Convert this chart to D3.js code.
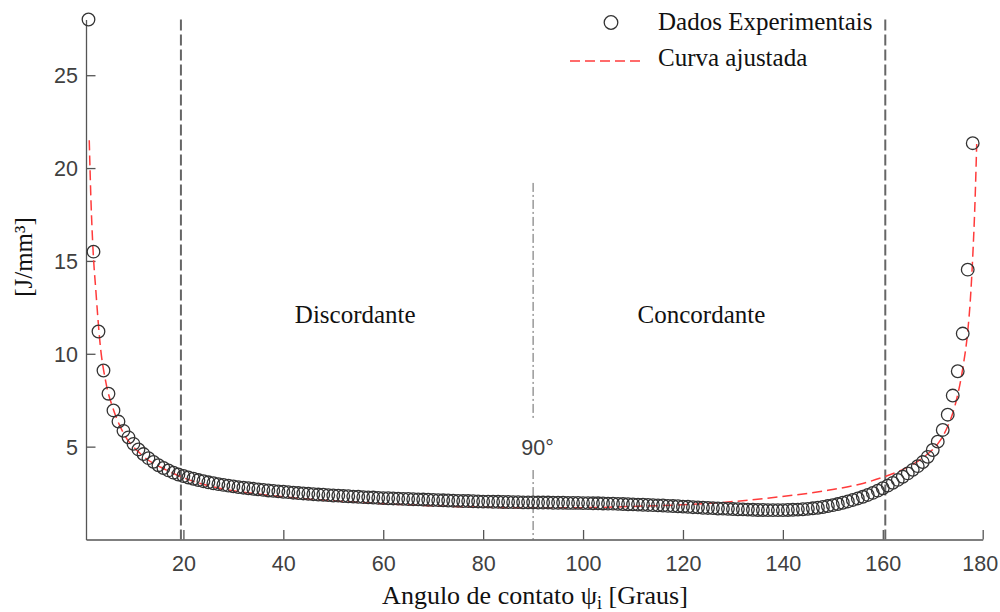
<!DOCTYPE html>
<html lang="pt">
<head>
<meta charset="UTF-8">
<title>Energia específica x ângulo de contato</title>
<script src="https://cdn.jsdelivr.net/npm/d3@7/dist/d3.min.js"></script>
<style>
    html, body { margin: 0; padding: 0; background: #fff; }
    svg { display: block; }
    .tick-label { font-family: "Liberation Sans", Arial, sans-serif; font-size: 21.5px; fill: #404040; }
    .serif { font-family: "Liberation Serif", "Times New Roman", serif; fill: #111; }
</style>
</head>
<body>
<svg id="chart" width="1000" height="612"></svg>
<script>
// pontos experimentais: angulo 1..178 graus
const angulos = d3.range(1, 179);
const energia = [
    28.0, 15.5, 11.2, 9.1, 7.85, 6.95, 6.35, 5.85, 5.5, 5.15,
    4.85, 4.6, 4.38, 4.18, 4.0, 3.85, 3.72, 3.6, 3.5, 3.42,
    3.34, 3.27, 3.2, 3.14, 3.08, 3.03, 2.98, 2.94, 2.9, 2.86,
    2.82, 2.79, 2.76, 2.73, 2.70, 2.67, 2.64, 2.62, 2.59, 2.57,
    2.55, 2.52, 2.50, 2.48, 2.46, 2.44, 2.42, 2.41, 2.39, 2.37,
    2.36, 2.34, 2.33, 2.31, 2.30, 2.28, 2.27, 2.26, 2.24, 2.23,
    2.22, 2.21, 2.20, 2.19, 2.18, 2.17, 2.16, 2.15, 2.14, 2.13,
    2.12, 2.11, 2.10, 2.09, 2.08, 2.07, 2.07, 2.06, 2.05, 2.04,
    2.04, 2.03, 2.03, 2.02, 2.02, 2.01, 2.01, 2.00, 2.00, 2.00,
    1.99, 1.99, 1.99, 1.98, 1.98, 1.98, 1.97, 1.97, 1.97, 1.96,
    1.96, 1.95, 1.95, 1.94, 1.93, 1.93, 1.92, 1.91, 1.90, 1.89,
    1.88, 1.87, 1.86, 1.85, 1.84, 1.83, 1.81, 1.80, 1.79, 1.77,
    1.76, 1.74, 1.73, 1.71, 1.70, 1.69, 1.67, 1.66, 1.65, 1.64,
    1.63, 1.62, 1.61, 1.60, 1.59, 1.59, 1.58, 1.58, 1.58, 1.58,
    1.59, 1.60, 1.61, 1.63, 1.65, 1.68, 1.71, 1.75, 1.80, 1.85,
    1.91, 1.98, 2.05, 2.13, 2.21, 2.30, 2.40, 2.51, 2.63, 2.76,
    2.90, 3.05, 3.21, 3.38, 3.56, 3.75, 3.95, 4.17, 4.45, 4.82,
    5.27, 5.9, 6.72, 7.75, 9.06, 11.09, 14.53, 21.34
];

// curva ajustada
const curvaX = [1.15, 1.5, 1.9, 2.5, 3.3, 4.5, 6, 8, 11.3, 16.6, 19.6, 26, 35, 45, 60, 80, 90, 102, 111, 119,
    129, 139, 149, 156, 160, 163, 166, 168, 170, 171, 172, 173, 174, 175, 176, 177, 177.5, 178, 178.5, 178.8];
const curvaY = [21.5, 18.2, 15.65, 13.3, 10.6, 8.43, 6.99, 5.73, 4.64, 3.74, 3.37, 2.83, 2.45, 2.18, 1.93, 1.74, 1.70, 1.72, 1.79, 1.86,
    2.02, 2.29, 2.65, 3.02, 3.35, 3.65, 4.05, 4.4, 4.85, 5.15, 5.55, 6.1, 6.8, 7.8, 9.2, 11.2, 12.8, 15.2, 18.5, 21.3];

const xTicks = [20, 40, 60, 80, 100, 120, 140, 160, 180];
const yTicks = [5, 10, 15, 20, 25];
const limites = [19.5, 160.5];   // linhas tracejadas verticais

const svg = d3.select("#chart");

const x = d3.scaleLinear().domain([0.5, 180]).range([86, 982.7]);
const y = d3.scaleLinear().domain([0, 28.0]).range([539.5, 19.5]);

// eixos (ticks para dentro, estilo matlab)
const xAxis = svg.append("g")
    .attr("transform", `translate(0,${y(0)})`)
    .call(d3.axisBottom(x).tickValues(xTicks).tickSizeInner(-9.5).tickSizeOuter(0).tickPadding(16));
const yAxis = svg.append("g")
    .attr("transform", `translate(${x(0.5)},0)`)
    .call(d3.axisLeft(y).tickValues(yTicks).tickSizeInner(-9.5).tickSizeOuter(0).tickPadding(8));

[xAxis, yAxis].forEach(ax => {
    ax.select(".domain").attr("stroke", "#555").attr("stroke-width", 1.3);
    ax.selectAll(".tick line").attr("stroke", "#555").attr("stroke-width", 1.3);
    ax.selectAll(".tick text").attr("class", "tick-label").attr("fill", null);
});
yAxis.selectAll(".tick text").attr("dy", "0.36em");
xAxis.selectAll(".tick text").attr("dy", "0.71em");
// o ultimo rotulo encosta na borda
xAxis.selectAll(".tick text").filter(d => d === 180).attr("dx", -3);

// linhas verticais tracejadas
svg.append("g").selectAll("line")
    .data(limites)
    .enter().append("line")
    .attr("x1", d => x(d)).attr("x2", d => x(d))
    .attr("y1", y(28.0)).attr("y2", y(0))
    .attr("stroke", "#666")
    .attr("stroke-width", 2)
    .attr("stroke-dasharray", "11,4");

// linha traço-ponto em 90 graus (interrompida pelo rotulo)
const centro = [[19.2, 6.43], [3.74, 0]];
svg.append("g").selectAll("line")
    .data(centro)
    .enter().append("line")
    .attr("x1", x(90)).attr("x2", x(90))
    .attr("y1", d => y(d[0])).attr("y2", d => y(d[1]))
    .attr("stroke", "#666")
    .attr("stroke-width", 1)
    .attr("stroke-dasharray", "9,3,2,3");

// curva ajustada
const linha = d3.line()
    .x(d => x(d[0]))
    .y(d => y(d[1]))
    .curve(d3.curveMonotoneX);
svg.append("path")
    .datum(d3.zip(curvaX, curvaY))
    .attr("d", linha)
    .attr("fill", "none")
    .attr("stroke", "#ff3b3b")
    .attr("stroke-width", 1.5)
    .attr("stroke-dasharray", "10,5");

// dados experimentais
svg.append("g").selectAll("circle")
    .data(d3.zip(angulos, energia))
    .enter().append("circle")
    .attr("cx", d => x(d[0]))
    .attr("cy", d => y(d[1]))
    .attr("r", 6.3)
    .attr("fill", "none")
    .attr("stroke", "#333")
    .attr("stroke-width", 1.3);

// textos das regioes
svg.append("text").attr("class", "serif")
    .attr("x", x(54.4)).attr("y", y(11.67))
    .attr("text-anchor", "middle").attr("font-size", 25)
    .text("Discordante");
svg.append("text").attr("class", "serif")
    .attr("x", x(123.7)).attr("y", y(11.67))
    .attr("text-anchor", "middle").attr("font-size", 25)
    .text("Concordante");
svg.append("text").attr("class", "tick-label")
    .attr("x", x(90.9)).attr("y", y(4.55))
    .attr("text-anchor", "middle").attr("font-size", 25).attr("fill", "#222")
    .text("90°");

// titulos dos eixos
const xLabel = svg.append("text").attr("class", "serif")
    .attr("x", 535).attr("y", 604)
    .attr("text-anchor", "middle").attr("font-size", 26);
xLabel.append("tspan").text("Angulo de contato ψ");
xLabel.append("tspan").attr("font-size", 18).attr("dy", 5).text("i");
xLabel.append("tspan").attr("dy", -5).text(" [Graus]");

svg.append("text").attr("class", "serif")
    .attr("transform", "translate(32,257) rotate(-90)")
    .attr("text-anchor", "middle").attr("font-size", 25)
    .text("[J/mm³]");

// legenda
const leg = svg.append("g");
leg.append("circle")
    .attr("cx", 611).attr("cy", 22.5).attr("r", 6.8)
    .attr("fill", "none").attr("stroke", "#333").attr("stroke-width", 1.3);
leg.append("text").attr("class", "serif")
    .attr("x", 658).attr("y", 30).attr("font-size", 25)
    .text("Dados Experimentais");
leg.append("line")
    .attr("x1", 570).attr("x2", 642).attr("y1", 61).attr("y2", 61)
    .attr("stroke", "#ff3b3b").attr("stroke-width", 1.5)
    .attr("stroke-dasharray", "10,5");
leg.append("text").attr("class", "serif")
    .attr("x", 658).attr("y", 66).attr("font-size", 25)
    .text("Curva ajustada");
</script>
</body>
</html>
